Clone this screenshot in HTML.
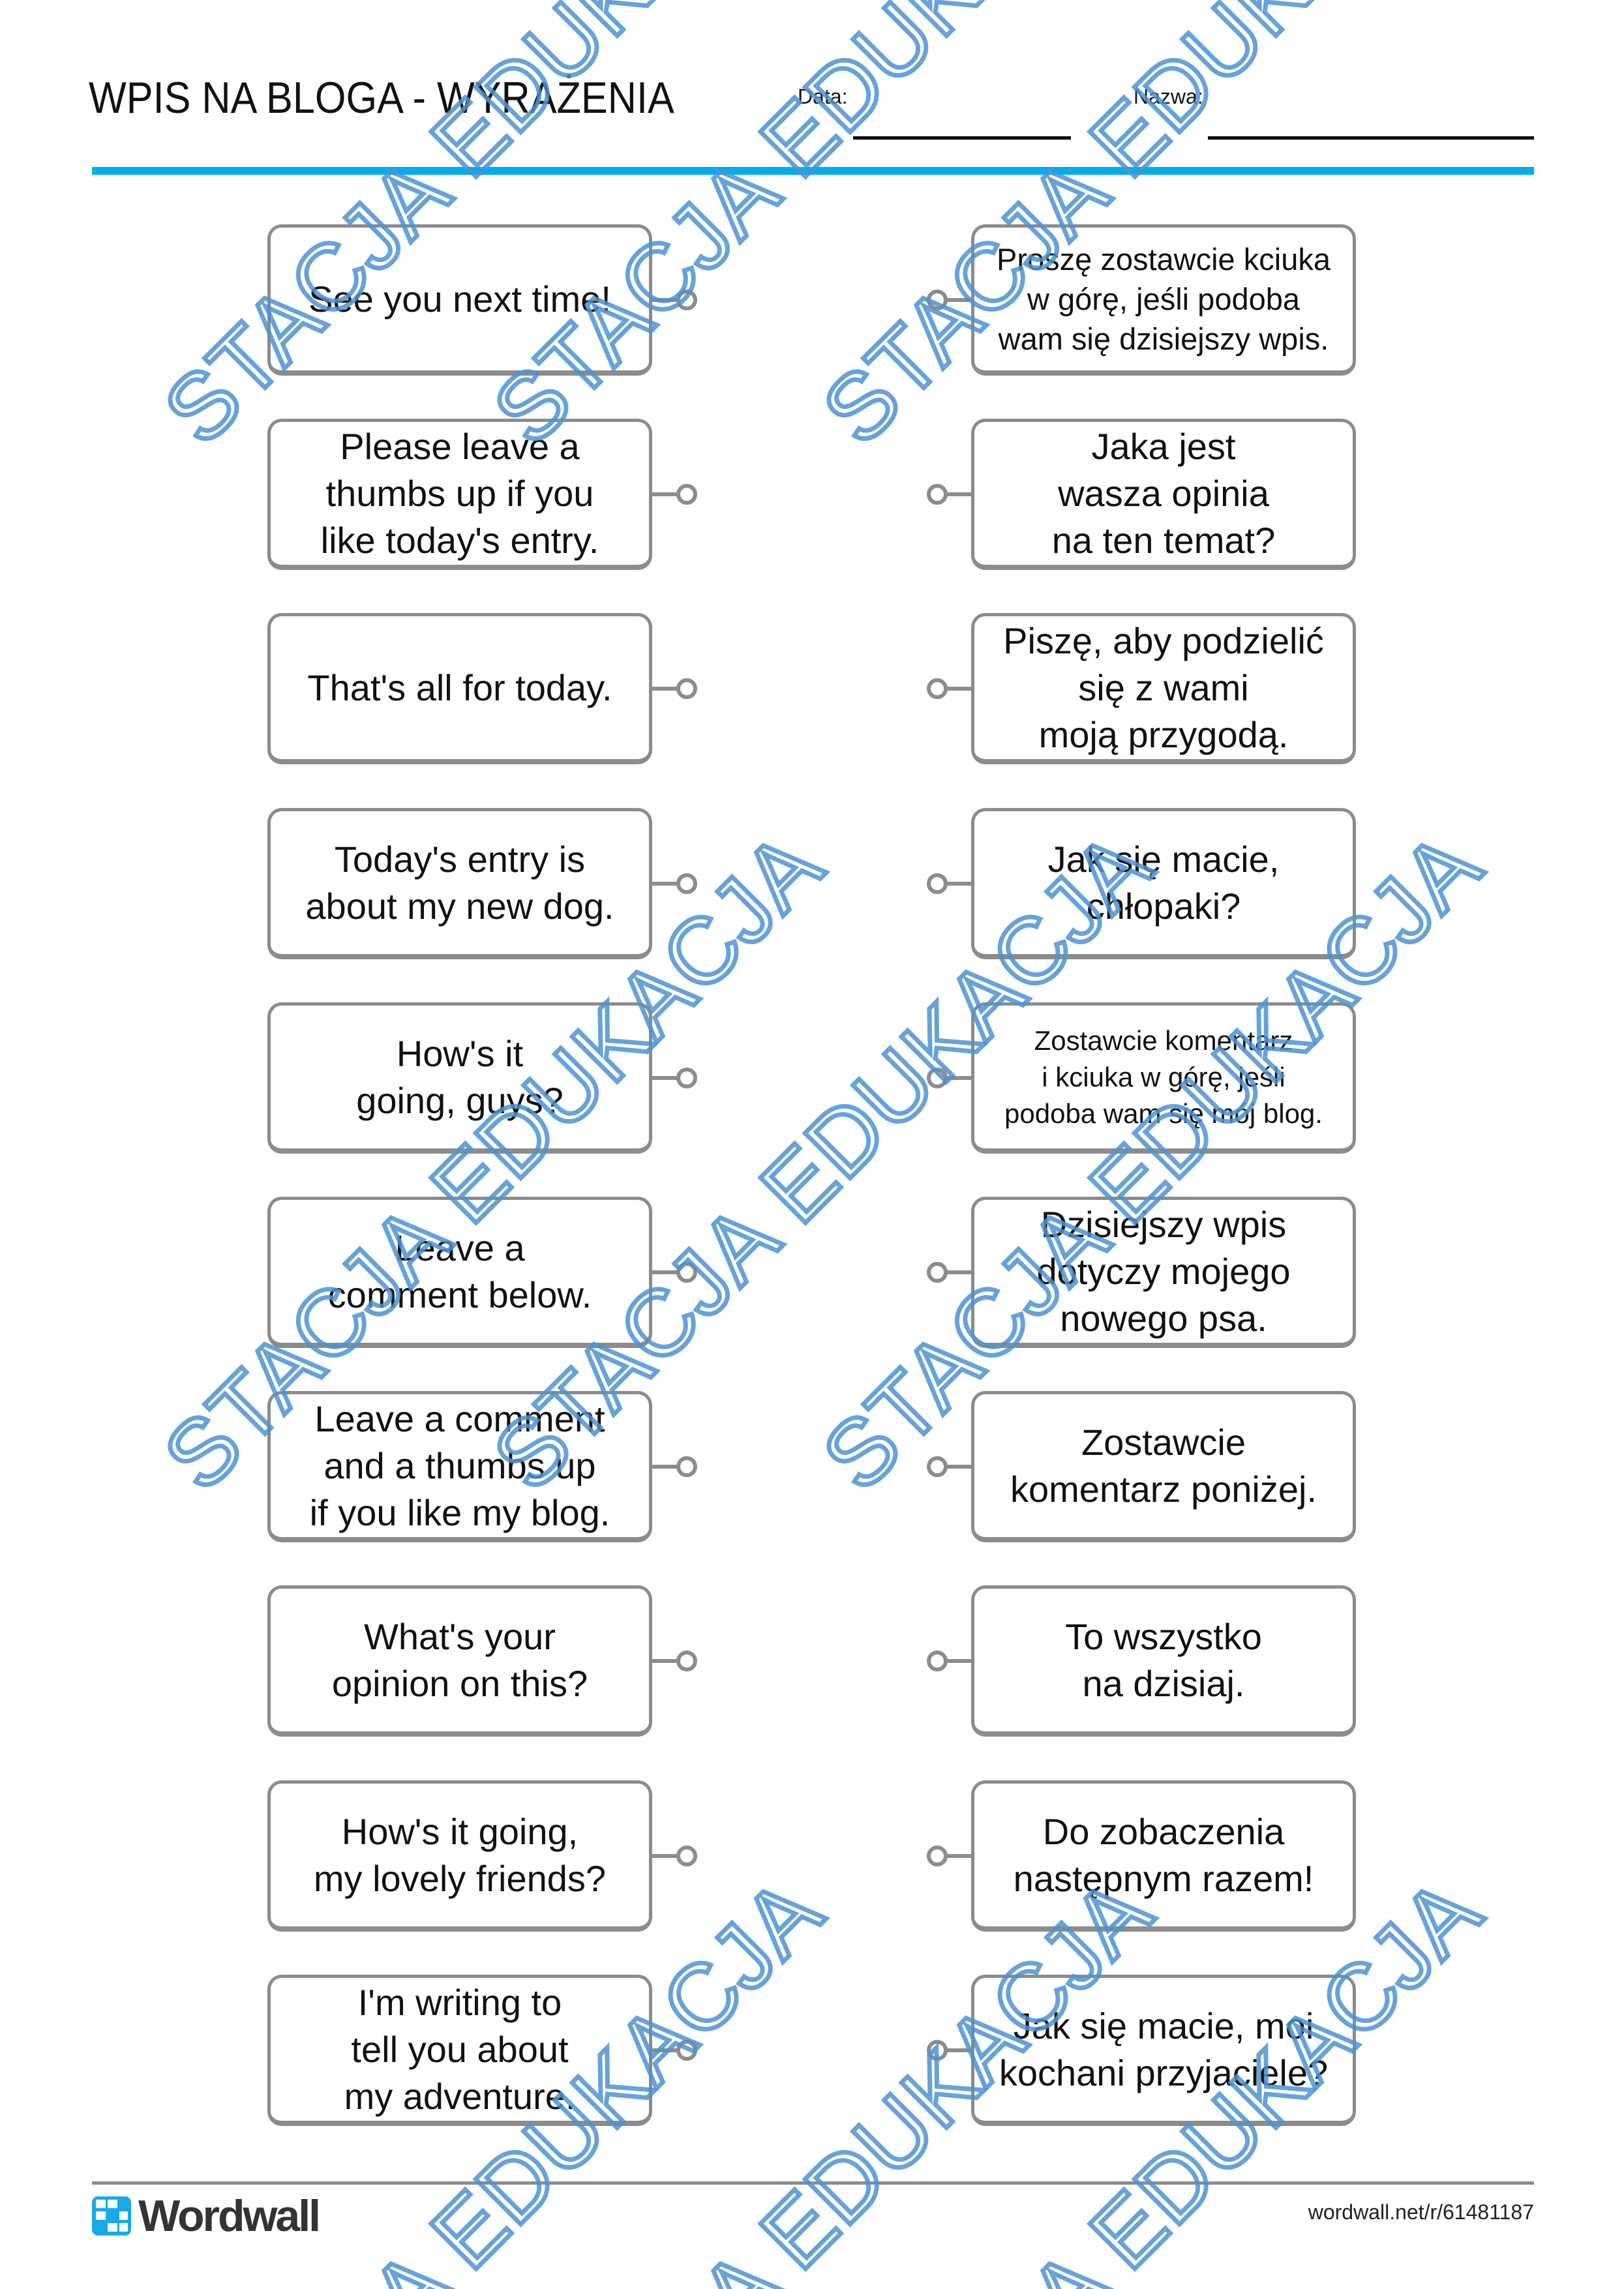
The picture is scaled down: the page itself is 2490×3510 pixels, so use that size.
<!DOCTYPE html>
<html><head><meta charset="utf-8">
<style>
html,body{margin:0;padding:0;background:#fff;width:2490px;height:3510px;overflow:hidden;}
#page{width:2490px;height:3510px;position:relative;overflow:hidden;font-family:"Liberation Sans",sans-serif;color:#111;}
.abs{position:absolute;}
.box{position:absolute;width:590px;height:232px;border:5px solid #8c8c8c;border-bottom-width:8px;border-radius:22px;box-sizing:border-box;display:flex;align-items:center;justify-content:center;text-align:center;font-size:56px;line-height:72px;background:transparent;}
.box.s{font-size:47px;line-height:61px;}
.box.xs{font-size:42px;line-height:56px;}
.line{position:absolute;height:6px;background:#8c8c8c;width:44px;}
.dot{position:absolute;width:20px;height:20px;border:6px solid #8c8c8c;border-radius:50%;background:#fff;}
</style></head><body><div id="page">

<div class="abs" style="left:136px;top:110px;font-size:68px;line-height:80px;white-space:nowrap;transform-origin:0 0;transform:scaleX(0.9);">WPIS NA BLOGA - WYRAŻENIA</div>
<div class="abs" style="left:1223px;top:128px;font-size:32px;line-height:40px;">Data:</div>
<div class="abs" style="left:1738px;top:128px;font-size:32px;line-height:40px;">Nazwa:</div>
<div class="abs" style="left:1308px;top:209px;width:334px;height:5px;background:#000;"></div>
<div class="abs" style="left:1852px;top:209px;width:500px;height:5px;background:#000;"></div>
<div class="abs" style="left:141px;top:256px;width:2211px;height:12px;background:#00aeef;"></div>

<div class="box" style="left:410px;top:344px;">See you next time!</div>
<div class="box s" style="left:1489px;top:344px;">Proszę zostawcie kciuka<br>w górę, jeśli podoba<br>wam się dzisiejszy wpis.</div>

<div class="box" style="left:410px;top:642px;">Please leave a<br>thumbs up if you<br>like today's entry.</div>
<div class="box" style="left:1489px;top:642px;">Jaka jest<br>wasza opinia<br>na ten temat?</div>

<div class="box" style="left:410px;top:940px;">That's all for today.</div>
<div class="box" style="left:1489px;top:940px;">Piszę, aby podzielić<br>się z wami<br>moją przygodą.</div>

<div class="box" style="left:410px;top:1239px;">Today's entry is<br>about my new dog.</div>
<div class="box" style="left:1489px;top:1239px;">Jak się macie,<br>chłopaki?</div>

<div class="box" style="left:410px;top:1537px;">How's it<br>going, guys?</div>
<div class="box xs" style="left:1489px;top:1537px;">Zostawcie komentarz<br>i kciuka w górę, jeśli<br>podoba wam się mój blog.</div>

<div class="box" style="left:410px;top:1835px;">Leave a<br>comment below.</div>
<div class="box" style="left:1489px;top:1835px;">Dzisiejszy wpis<br>dotyczy mojego<br>nowego psa.</div>

<div class="box" style="left:410px;top:2133px;">Leave a comment<br>and a thumbs up<br>if you like my blog.</div>
<div class="box" style="left:1489px;top:2133px;">Zostawcie<br>komentarz poniżej.</div>

<div class="box" style="left:410px;top:2431px;">What's your<br>opinion on this?</div>
<div class="box" style="left:1489px;top:2431px;">To wszystko<br>na dzisiaj.</div>

<div class="box" style="left:410px;top:2730px;">How's it going,<br>my lovely friends?</div>
<div class="box" style="left:1489px;top:2730px;">Do zobaczenia<br>następnym razem!</div>

<div class="box" style="left:410px;top:3028px;">I'm writing to<br>tell you about<br>my adventure.</div>
<div class="box" style="left:1489px;top:3028px;">Jak się macie, moi<br>kochani przyjaciele?</div>

<div class="line" style="left:1000px;top:457px"></div><div class="dot" style="left:1037px;top:444px"></div>
<div class="line" style="left:1450px;top:457px"></div><div class="dot" style="left:1421px;top:444px"></div>
<div class="line" style="left:1000px;top:755px"></div><div class="dot" style="left:1037px;top:742px"></div>
<div class="line" style="left:1450px;top:755px"></div><div class="dot" style="left:1421px;top:742px"></div>
<div class="line" style="left:1000px;top:1053px"></div><div class="dot" style="left:1037px;top:1040px"></div>
<div class="line" style="left:1450px;top:1053px"></div><div class="dot" style="left:1421px;top:1040px"></div>
<div class="line" style="left:1000px;top:1352px"></div><div class="dot" style="left:1037px;top:1339px"></div>
<div class="line" style="left:1450px;top:1352px"></div><div class="dot" style="left:1421px;top:1339px"></div>
<div class="line" style="left:1000px;top:1650px"></div><div class="dot" style="left:1037px;top:1637px"></div>
<div class="line" style="left:1450px;top:1650px"></div><div class="dot" style="left:1421px;top:1637px"></div>
<div class="line" style="left:1000px;top:1948px"></div><div class="dot" style="left:1037px;top:1935px"></div>
<div class="line" style="left:1450px;top:1948px"></div><div class="dot" style="left:1421px;top:1935px"></div>
<div class="line" style="left:1000px;top:2246px"></div><div class="dot" style="left:1037px;top:2233px"></div>
<div class="line" style="left:1450px;top:2246px"></div><div class="dot" style="left:1421px;top:2233px"></div>
<div class="line" style="left:1000px;top:2544px"></div><div class="dot" style="left:1037px;top:2531px"></div>
<div class="line" style="left:1450px;top:2544px"></div><div class="dot" style="left:1421px;top:2531px"></div>
<div class="line" style="left:1000px;top:2843px"></div><div class="dot" style="left:1037px;top:2830px"></div>
<div class="line" style="left:1450px;top:2843px"></div><div class="dot" style="left:1421px;top:2830px"></div>
<div class="line" style="left:1000px;top:3141px"></div><div class="dot" style="left:1037px;top:3128px"></div>
<div class="line" style="left:1450px;top:3141px"></div><div class="dot" style="left:1421px;top:3128px"></div>

<div class="abs" style="left:141px;top:3345px;width:2211px;height:5px;background:#8c8c8c;"></div>
<svg class="abs" style="left:141px;top:3368px" width="60" height="60" viewBox="0 0 60 60">
<rect x="0" y="0" width="60" height="60" rx="9" fill="#1aa9e8"/>
<rect x="6" y="5" width="15" height="13" fill="#fff"/><rect x="24" y="5" width="15" height="13" fill="#fff"/>
<rect x="6" y="23" width="15" height="13" fill="#fff"/><rect x="42" y="23" width="13" height="13" fill="#fff"/>
<rect x="24" y="41" width="15" height="13" fill="#fff"/><rect x="42" y="41" width="13" height="13" fill="#fff"/>
</svg>
<div class="abs" style="left:212px;top:3360px;font-size:68px;line-height:76px;font-weight:bold;color:#333;letter-spacing:-3px;">Wordwall</div>
<div class="abs" style="right:138px;top:3372px;font-size:32px;line-height:40px;color:#222;">wordwall.net/r/61481187</div>

<svg class="abs" style="left:0;top:0" width="2490" height="3510" viewBox="0 0 2490 3510">
<g font-family="Liberation Sans, sans-serif" font-size="142" letter-spacing="2" fill="none" stroke="rgba(76,146,212,0.85)" stroke-width="7">
<text transform="translate(312,689) rotate(-45)">STACJA EDUKACJA</text>
<text transform="translate(817,689) rotate(-45)">STACJA EDUKACJA</text>
<text transform="translate(1322,689) rotate(-45)">STACJA EDUKACJA</text>
<text transform="translate(312,2293) rotate(-45)">STACJA EDUKACJA</text>
<text transform="translate(817,2293) rotate(-45)">STACJA EDUKACJA</text>
<text transform="translate(1322,2293) rotate(-45)">STACJA EDUKACJA</text>
<text transform="translate(312,3897) rotate(-45)">STACJA EDUKACJA</text>
<text transform="translate(817,3897) rotate(-45)">STACJA EDUKACJA</text>
<text transform="translate(1322,3897) rotate(-45)">STACJA EDUKACJA</text>
</g>
</svg>

</div></body></html>
